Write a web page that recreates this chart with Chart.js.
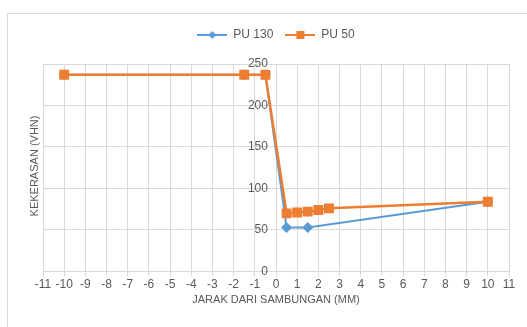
<!DOCTYPE html>
<html>
<head>
<meta charset="utf-8">
<script src="https://cdn.jsdelivr.net/npm/chart.js@4"></script>
<style>
  html, body { margin: 0; padding: 0; background: #fff; }
  #wrap { width: 527px; height: 327px; position: relative; }
</style>
</head>
<body>
<div id="wrap"><canvas id="chart" width="527" height="327"></canvas></div>
<script>
// data
const seriesNames = ['PU 130', 'PU 50'];
const pu130X = [-10, -1.5, -0.5, 0.5, 1.5, 10];
const pu130Y = [237, 237, 237, 53, 53, 84];
const pu50X = [-10, -1.5, -0.5, 0.5, 1, 1.5, 2, 2.5, 10];
const pu50Y = [237, 237, 237, 70, 71, 72, 74, 76, 84];
const xTicks = [-11, -10, -9, -8, -7, -6, -5, -4, -3, -2, -1, 0, 1, 2, 3, 4, 5, 6, 7, 8, 9, 10, 11];
const yTicks = [0, 50, 100, 150, 200, 250];

const blue = '#5B9BD5';
const orange = '#ED7D31';
const grey = '#595959';
const gridCol = '#D9D9D9';
const font = "'Liberation Sans', Arial, sans-serif";

function toPoints(xs, ys) {
    return xs.map((x, i) => ({ x: x, y: ys[i] }));
}

// small picture for the legend: line with its marker
function legendIcon(color, shape) {
    let c = document.createElement('canvas');
    c.width = 30; c.height = 10;
    let g = c.getContext('2d');
    g.strokeStyle = color;
    g.lineWidth = 2;
    g.beginPath(); g.moveTo(0, 5); g.lineTo(30, 5); g.stroke();
    g.fillStyle = color;
    if (shape === 'diamond') {
        g.beginPath(); g.moveTo(15, 1); g.lineTo(19, 5); g.lineTo(15, 9); g.lineTo(11, 5); g.closePath(); g.fill();
    } else {
        g.fillRect(11, 1, 8, 8);
    }
    return c;
}
const icons = [legendIcon(blue, 'diamond'), legendIcon(orange, 'square')];

// chart frame + y axis title + some room under the legend
const framePlugin = {
    id: 'frame',
    beforeLayout(chart) {
        let lg = chart.legend;
        if (lg && !lg._patched) {
            let fit = lg.fit;
            lg.fit = function () { fit.call(this); this.height += 13; };
            lg._patched = true;
        }
    },
    beforeDraw(chart) {
        let ctx = chart.ctx;
        ctx.save();
        ctx.fillStyle = '#fff';
        ctx.fillRect(0, 0, chart.width, chart.height);
        ctx.strokeStyle = gridCol;
        ctx.lineWidth = 1;
        ctx.beginPath();
        ctx.moveTo(7.5, chart.height + 5);
        ctx.lineTo(7.5, 13.5);
        ctx.lineTo(chart.width + 5, 13.5);
        ctx.stroke();
        ctx.restore();
    },
    afterDraw(chart) {
        let ctx = chart.ctx;
        ctx.save();
        ctx.translate(35, 166);
        ctx.rotate(-Math.PI / 2);
        ctx.fillStyle = grey;
        ctx.font = '11px ' + font;
        ctx.textAlign = 'center';
        ctx.textBaseline = 'middle';
        ctx.fillText('KEKERASAN (VHN)', 0, 0);
        ctx.restore();
    }
};

new Chart(document.getElementById('chart'), {
    type: 'scatter',
    data: {
        datasets: [{
            label: seriesNames[0],
            data: toPoints(pu130X, pu130Y),
            showLine: true,
            borderColor: blue,
            backgroundColor: blue,
            borderWidth: 2,
            pointStyle: 'rectRot',
            pointRadius: 5.5,
            pointBorderWidth: 0,
            order: 1
        }, {
            label: seriesNames[1],
            data: toPoints(pu50X, pu50Y),
            showLine: true,
            borderColor: orange,
            backgroundColor: orange,
            borderWidth: 2.5,
            pointStyle: 'rect',
            pointRadius: 7,
            pointBorderWidth: 0,
            order: 0
        }]
    },
    options: {
        responsive: false,
        animation: false,
        layout: { padding: { left: 43, right: 18, top: 17, bottom: 20 } },
        plugins: {
            tooltip: { enabled: false },
            legend: {
                position: 'top',
                labels: {
                    color: grey,
                    font: { family: font, size: 12 },
                    usePointStyle: true,
                    pointStyleWidth: 30,
                    boxHeight: 10,
                    padding: 12,
                    sort: (a, b) => a.datasetIndex - b.datasetIndex,
                    generateLabels(chart) {
                        let items = Chart.defaults.plugins.legend.labels.generateLabels(chart);
                        items.forEach(it => { it.pointStyle = icons[it.datasetIndex]; });
                        return items;
                    }
                }
            }
        },
        scales: {
            x: {
                type: 'linear',
                min: -11,
                max: 11,
                afterBuildTicks(axis) { axis.ticks = xTicks.map(v => ({ value: v })); },
                grid: { color: gridCol, tickLength: 5, drawTicks: true },
                border: { color: gridCol },
                ticks: { color: grey, font: { family: font, size: 12 }, maxRotation: 0, autoSkip: false, padding: 1 },
                title: { display: true, text: 'JARAK DARI SAMBUNGAN (MM)', color: grey, font: { family: font, size: 11 }, padding: { top: 1, bottom: 0 } }
            },
            y: {
                min: 0,
                max: 250,
                afterBuildTicks(axis) { axis.ticks = yTicks.map(v => ({ value: v })); },
                grid: { color: gridCol, drawTicks: false },
                border: { display: false },
                ticks: { display: false }
            },
            // labels of the value axis sit just left of x = 0
            y2: {
                axis: 'y',
                position: { x: -0.38 },
                min: 0,
                max: 250,
                afterBuildTicks(axis) { axis.ticks = yTicks.map(v => ({ value: v })); },
                grid: { display: false, drawTicks: false },
                border: { display: false },
                ticks: { color: grey, font: { family: font, size: 12 } }
            }
        }
    },
    plugins: [framePlugin]
});
</script>
</body>
</html>
